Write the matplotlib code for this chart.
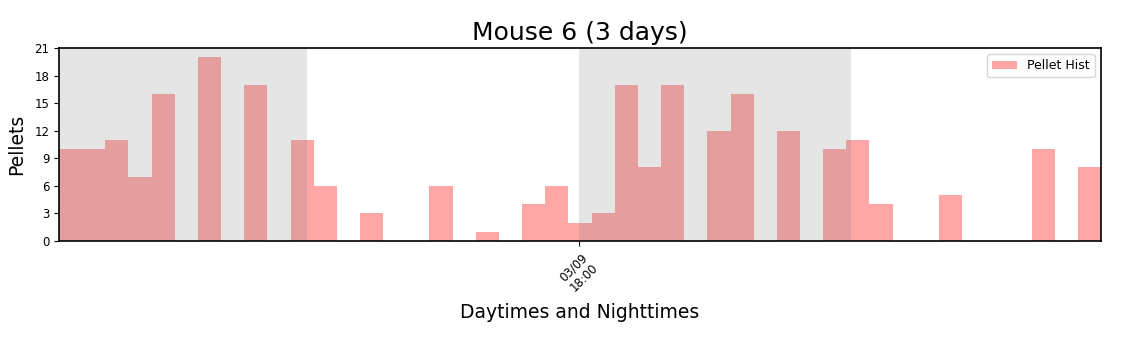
import datetime as dt
import numpy as np
import matplotlib
matplotlib.use("Agg")
import matplotlib.pyplot as plt
import matplotlib.dates as mdates

# data: pellet counts per bin (45 equal bins)
counts = [10, 10, 11, 7, 16, 0, 20, 0, 17, 0,
          11, 6, 0, 3, 0, 0, 6, 0, 1, 0,
          4, 6, 2, 3, 17, 8, 17, 0, 12, 16,
          0, 12, 0, 10, 11, 4, 0, 0, 5, 0,
          0, 0, 10, 0, 8]
start_time = dt.datetime(2020, 3, 8, 19, 4)
end_time = dt.datetime(2020, 3, 10, 17, 2)
nights = [(dt.datetime(2020, 3, 8, 18, 0), dt.datetime(2020, 3, 9, 6, 0)),
          (dt.datetime(2020, 3, 9, 18, 0), dt.datetime(2020, 3, 10, 6, 0))]
tick_times = [dt.datetime(2020, 3, 9, 18, 0)]
tick_labels = ["03/09\n18:00"]
yticks = [0, 3, 6, 9, 12, 15, 18, 21]

fig = plt.figure(figsize=(11.21, 3.53), dpi=100)
ax = fig.add_axes([59/1121, 1-241/353, (1101-59)/1121, (241-48)/353])

n = len(counts)
s = mdates.date2num(start_time)
e = mdates.date2num(end_time)
edges = np.linspace(s, e, n + 1)
ax.bar(edges[:-1], counts, width=np.diff(edges), align='edge',
       color='#ffa6a6', linewidth=0,
       label='Pellet Hist', zorder=1)
for a, b in nights:
    ax.axvspan(max(mdates.date2num(a), s), min(mdates.date2num(b), e),
               color='grey', alpha=0.2, linewidth=0, zorder=2)

ax.set_xlim(s, e)
ax.set_ylim(0, 21)
ax.set_yticks(yticks)
ax.tick_params(axis='y', labelsize=8.5)
ax.set_xticks([mdates.date2num(t) for t in tick_times])
ax.set_xticklabels(tick_labels, rotation=45, fontsize=8.5, ha='center')
ax.set_ylabel('Pellets', fontsize=13.5, labelpad=6)
ax.set_xlabel('Daytimes and Nighttimes', fontsize=13.5, labelpad=6)
ax.set_title('Mouse 6 (3 days)', fontsize=18)
ax.legend(loc='upper right', fontsize=9)
for sp in ax.spines.values():
    sp.set_linewidth(1.2)

fig.savefig('out.png', dpi=100)
